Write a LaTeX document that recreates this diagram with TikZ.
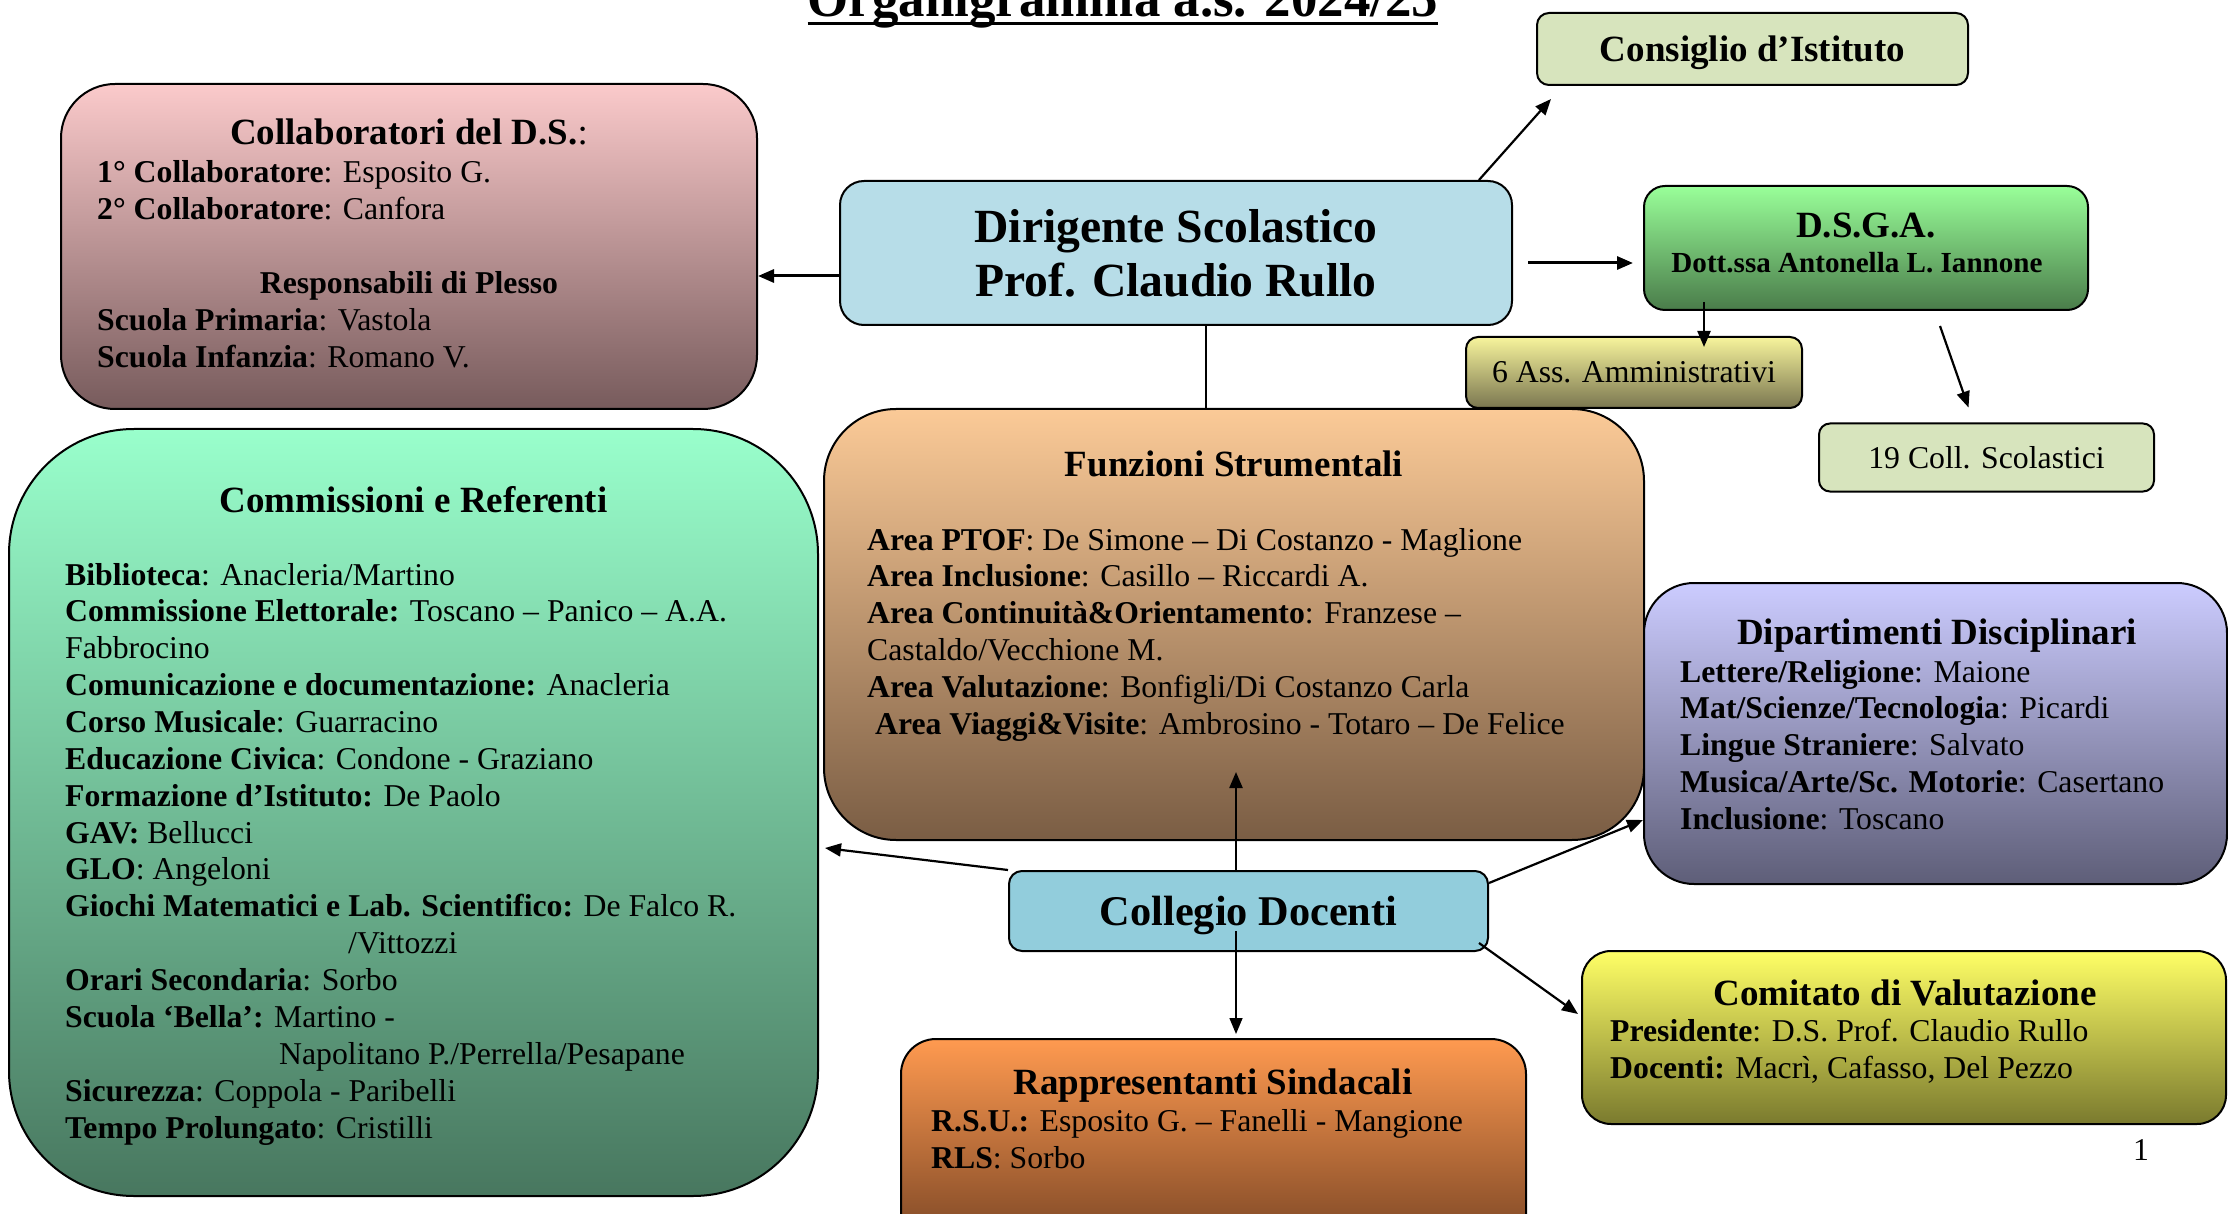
\documentclass[tikz,border=0pt]{standalone}
\usepackage{fontspec}
\setmainfont{Liberation Serif}
\usetikzlibrary{arrows.meta}

\newcommand{\fsXI}{\fontsize{29.1}{33.5}\selectfont}
\newcommand{\fsXII}{\fontsize{31.75}{36.8}\selectfont}
\newcommand{\fsXIV}{\fontsize{37}{42.5}\selectfont}
\newcommand{\fsXVI}{\fontsize{42.3}{48.6}\selectfont}
\newcommand{\fsXVIII}{\fontsize{47.6}{54}\selectfont}
\newcommand{\fsXX}{\fontsize{52.9}{60.8}\selectfont}

\definecolor{consiglio}{HTML}{D7E4BD}
\definecolor{dirig}{HTML}{B7DDE8}
\definecolor{collegio}{HTML}{92CDDC}
\definecolor{collabA}{HTML}{FBCACB}
\definecolor{collabB}{HTML}{775B5C}
\definecolor{dsgaA}{HTML}{99FF99}
\definecolor{dsgaB}{HTML}{4A7C4A}
\definecolor{assA}{HTML}{F7F49C}
\definecolor{assB}{HTML}{7A7650}
\definecolor{funA}{HTML}{FBCA97}
\definecolor{funB}{HTML}{7A5D44}
\definecolor{comA}{HTML}{99FFCC}
\definecolor{comB}{HTML}{48775F}
\definecolor{dipA}{HTML}{CCCCFF}
\definecolor{dipB}{HTML}{5E5E78}
\definecolor{rapA}{HTML}{FF9A50}
\definecolor{rapB}{HTML}{784424}
\definecolor{comitA}{HTML}{FFFF66}
\definecolor{comitB}{HTML}{7A7A2E}

\tikzset{
    orgbox/.style={draw, line width=2pt, inner sep=0pt},
    freccia/.style={line width=2.2pt, -{Triangle[length=16pt,width=13pt]}},
    every node/.append style={inner sep=0pt}
}

\begin{document}
\begin{tikzpicture}[x=1pt, y=-1pt]
    \useasboundingbox (0,0) rectangle (2228,1214);
    \fill[white] (0,0) rectangle (2228,1214);

    \node[anchor=base, font=\fsXX\bfseries] (titolo) at (1123,17) {Organigramma a.s. 2024/25};
    \draw[line width=3pt] ([yshift=-7pt]titolo.base west) -- ([yshift=-7pt]titolo.base east);

    \node[orgbox, fill=consiglio, rounded corners=12pt, minimum width=431pt, minimum height=72pt, text depth=0pt, font=\fsXIV\bfseries] (cons) at (1752.5,49) {Consiglio d’Istituto};
    \node[orgbox, fill=dirig, rounded corners=24pt, minimum width=672pt, minimum height=144pt, align=center, font=\fsXVIII\bfseries] (dir) at (1176,253) {Dirigente Scolastico\\Prof. Claudio Rullo};
    \node[orgbox, top color=dsgaA, bottom color=dsgaB, rounded corners=21pt, minimum width=444pt, minimum height=124pt] (dsga) at (1866,248) {};
    \node[orgbox, top color=assA, bottom color=assB, rounded corners=12pt, minimum width=336pt, minimum height=71pt, font=\fsXII] (ass) at (1634,372.5) {6 Ass. Amministrativi};
    \node[orgbox, fill=consiglio, rounded corners=11pt, minimum width=335pt, minimum height=68pt, font=\fsXII] (coll) at (1986.5,457.5) {19 Coll. Scolastici};
    \node[orgbox, top color=collabA, bottom color=collabB, rounded corners=54pt, minimum width=696pt, minimum height=325pt] (collab) at (409,246.5) {};
    \node[orgbox, top color=funA, bottom color=funB, rounded corners=72pt, minimum width=820pt, minimum height=431pt] (fun) at (1234,624.5) {};
    \node[orgbox, top color=comA, bottom color=comB, rounded corners=125pt, minimum width=809pt, minimum height=767pt] (com) at (413.5,812.5) {};
    \node[orgbox, top color=dipA, bottom color=dipB, rounded corners=50pt, minimum width=583pt, minimum height=301pt] (dip) at (1935.5,733.5) {};
    \node[orgbox, fill=collegio, rounded corners=13pt, minimum width=479pt, minimum height=80pt, text depth=0pt, font=\fsXVI\bfseries] (col) at (1248.5,911) {Collegio Docenti};
    \node[orgbox, top color=rapA, bottom color=rapB, rounded corners=35pt, minimum width=625pt, minimum height=211pt] (rap) at (1213.5,1144.5) {};
    \node[orgbox, top color=comitA, bottom color=comitB, rounded corners=29pt, minimum width=644pt, minimum height=173pt] (comit) at (1904,1037.5) {};

    \node[anchor=base, font=\fsXIV\bfseries] (dsgaT) at (1866,238) {D.S.G.A.};
    \node[anchor=base, font=\fsXI\bfseries] (dsgaN) at (1857,273) {Dott.ssa Antonella L. Iannone};

    \node[anchor=base, font=\fsXIV] (collabT) at (409,145) {\textbf{Collaboratori del D.S.}:};
    \node[anchor=base, font=\fsXII\bfseries] (collabP) at (409,294) {Responsabili di Plesso};
    \foreach \yb/\riga [count=\k] in {
        183/{\textbf{1° Collaboratore}: Esposito G.},
        220/{\textbf{2° Collaboratore}: Canfora},
        331/{\textbf{Scuola Primaria}: Vastola},
        368/{\textbf{Scuola Infanzia}: Romano V.}}
        \node[anchor=base west, font=\fsXII] (collab\k) at (97,\yb) {\riga};

    \node[anchor=base, font=\fsXIV\bfseries] (funT) at (1234,476) {Funzioni Strumentali};
    \foreach \riga [count=\k] in {
        {\textbf{Area PTOF}: De Simone – Di Costanzo - Maglione},
        {\textbf{Area Inclusione}: Casillo – Riccardi A.},
        {\textbf{Area Continuità\&Orientamento}: Franzese –},
        {Castaldo/Vecchione M.},
        {\textbf{Area Valutazione}: Bonfigli/Di Costanzo Carla},
        {\ \textbf{Area Viaggi\&Visite}: Ambrosino - Totaro – De Felice}}
        \node[anchor=base west, font=\fsXII] (fun\k) at (867,{550+36.8*(\k-1)}) {\riga};

    \node[anchor=base, font=\fsXIV\bfseries] (comT) at (413.5,512) {Commissioni e Referenti};
    \foreach \riga [count=\k] in {
        {\textbf{Biblioteca}: Anacleria/Martino},
        {\textbf{Commissione Elettorale:} Toscano – Panico – A.A.},
        {Fabbrocino},
        {\textbf{Comunicazione e documentazione:} Anacleria},
        {\textbf{Corso Musicale}: Guarracino},
        {\textbf{Educazione Civica}: Condone - Graziano},
        {\textbf{Formazione d’Istituto:} De Paolo},
        {\textbf{GAV:} Bellucci},
        {\textbf{GLO}: Angeloni},
        {\textbf{Giochi Matematici e Lab. Scientifico:} De Falco R.},
        {\hspace*{283pt}/Vittozzi},
        {\textbf{Orari Secondaria}: Sorbo},
        {\textbf{Scuola ‘Bella’:} Martino -},
        {\hspace*{214pt}Napolitano P./Perrella/Pesapane},
        {\textbf{Sicurezza}: Coppola - Paribelli},
        {\textbf{Tempo Prolungato}: Cristilli}}
        \node[anchor=base west, font=\fsXII] (com\k) at (65,{585+36.87*(\k-1)}) {\riga};

    \node[anchor=base, font=\fsXIV\bfseries] (dipT) at (1937,644) {Dipartimenti Disciplinari};
    \foreach \riga [count=\k] in {
        {\textbf{Lettere/Religione}: Maione},
        {\textbf{Mat/Scienze/Tecnologia}: Picardi},
        {\textbf{Lingue Straniere}: Salvato},
        {\textbf{Musica/Arte/Sc. Motorie}: Casertano},
        {\textbf{Inclusione}: Toscano}}
        \node[anchor=base west, font=\fsXII] (dip\k) at (1680,{682+36.8*(\k-1)}) {\riga};

    \node[anchor=base, font=\fsXIV\bfseries] (comitT) at (1905,1005) {Comitato di Valutazione};
    \node[anchor=base west, font=\fsXII] (comit1) at (1610,1041) {\textbf{Presidente}: D.S. Prof. Claudio Rullo};
    \node[anchor=base west, font=\fsXII] (comit2) at (1610,1078) {\textbf{Docenti:} Macrì, Cafasso, Del Pezzo};

    \node[anchor=base, font=\fsXIV\bfseries] (rapT) at (1213,1094) {Rappresentanti Sindacali};
    \node[anchor=base west, font=\fsXII] (rap1) at (931,1131) {\textbf{R.S.U.:} Esposito G. – Fanelli - Mangione};
    \node[anchor=base west, font=\fsXII] (rap2) at (931,1168) {\textbf{RLS}: Sorbo};

    \node[font=\fsXII] (pagina) at (2141,1150) {1};

    \draw[freccia, line width=3pt] ([yshift=-23pt]dir.west) -- ([yshift=-29.5pt]collab.east);
    \draw[freccia] ([xshift=-34pt]dir.north east) -- ([xshift=15pt,yshift=-13pt]cons.south west);
    \draw[freccia, line width=3pt] ([xshift=15pt,yshift=-10pt]dir.east) -- ([xshift=-10pt,yshift=-15pt]dsga.west);
    \draw[freccia] ([xshift=-162pt,yshift=9pt]dsga.south) -- ([xshift=70pt,yshift=-11pt]ass.north);
    \draw[freccia] ([xshift=74pt,yshift=-15pt]dsga.south) -- ([xshift=-18pt,yshift=15pt]coll.north);
    \draw[line width=1.6pt] ([xshift=30pt]dir.south) -- ([xshift=-28pt]fun.north);
    \draw[freccia] ([xshift=-12.5pt]col.north) -- ([xshift=2pt,yshift=-147.5pt]fun.center);
    \draw[freccia] (col.north west) -- ([xshift=6pt,yshift=-35.5pt]com.east);
    \draw[freccia] ([yshift=-13pt]col.north east) -- ([yshift=-86.5pt]dip.west);
    \draw[freccia, line width=1.5pt] ([xshift=-12.5pt,yshift=-20pt]col.center) -- ([xshift=22.5pt,yshift=4pt]rap.north);
    \draw[freccia] ([xshift=-10pt,yshift=9pt]col.south east) -- ([xshift=-3pt,yshift=23.5pt]comit.west);
\end{tikzpicture}
\end{document}
